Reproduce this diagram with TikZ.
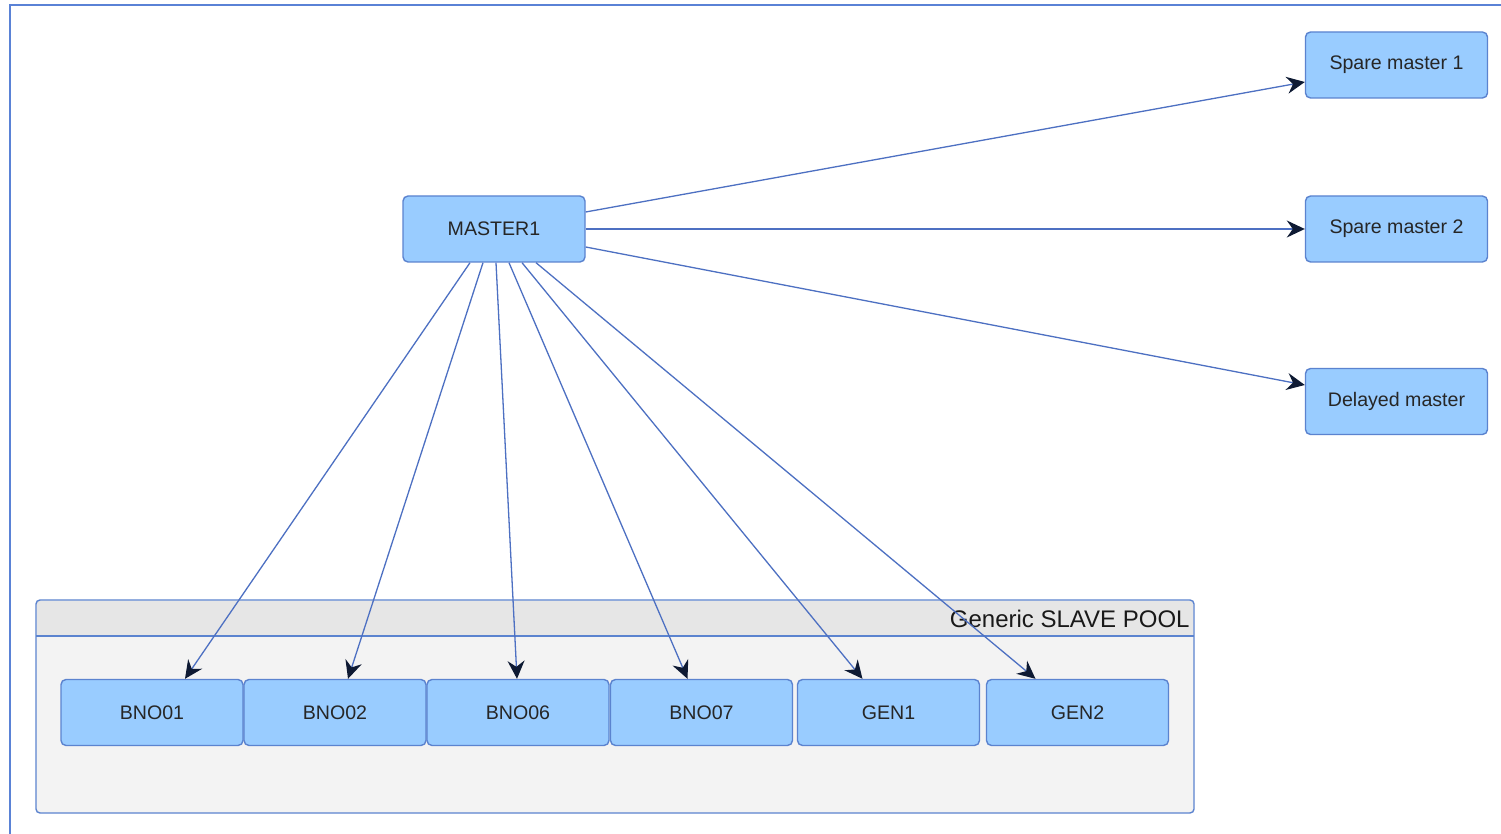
\documentclass[tikz,border=0pt]{standalone}
\usepackage{fontspec}
\setmainfont{Liberation Sans}
\usetikzlibrary{arrows.meta}
\definecolor{frameblue}{HTML}{5A82D6}
\definecolor{boxfill}{HTML}{99CCFF}
\definecolor{boxline}{HTML}{5B83CF}
\definecolor{wire}{HTML}{4D70C2}
\definecolor{tipc}{HTML}{0E1A33}
\definecolor{poolhead}{HTML}{E6E6E6}
\definecolor{poolbody}{HTML}{F3F3F3}
\tikzset{
  hostbox/.style={draw=boxline, fill=boxfill, rounded corners=2.5pt, line width=0.7pt,
    minimum width=91pt, minimum height=33pt, inner sep=0pt,
    font=\fontsize{9.8}{12}\selectfont, text=black!85},
  link/.style={draw=wire, line width=0.65pt,
    -{Stealth[length=9pt, width=8.5pt, inset=3pt, color=tipc]}},
}
\begin{document}
\begin{tikzpicture}[x=0.5pt, y=-0.5pt]
\useasboundingbox (0,0) rectangle (1501,834);
\fill[white] (0,0) rectangle (1501,834);

% page frame (left and top edges)
\draw[frameblue, line width=1pt] (10,850) -- (10,5) -- (1520,5);

% slave pool container
\fill[poolbody, rounded corners=2pt] (36,600) rectangle (1194,813);
\fill[poolhead] (37,601) rectangle (1193,636);
\draw[boxline, line width=0.7pt] (36,636) -- (1194,636);
\draw[boxline, line width=0.7pt, rounded corners=2pt] (36,600) rectangle (1194,813);
\node[anchor=base east, inner sep=0pt, font=\fontsize{12}{14}\selectfont, text=black!90]
  (pooltitle) at (1190,627) {Generic SLAVE POOL};

% master and spare masters
\node[hostbox] (m)  at (494,229)   {MASTER1};
\node[hostbox] (s1) at (1396.5,65) {Spare master 1};
\node[hostbox] (s2) at (1396.5,229) {Spare master 2};
\node[hostbox] (d)  at (1396.5,401.5) {Delayed master};

% slaves
\node[hostbox] (b1) at (152,712.5)   {BNO01};
\node[hostbox] (b2) at (335,712.5)   {BNO02};
\node[hostbox] (b6) at (518,712.5)   {BNO06};
\node[hostbox] (b7) at (701.5,712.5) {BNO07};
\node[hostbox] (g1) at (888.5,712.5) {GEN1};
\node[hostbox] (g2) at (1077.5,712.5) {GEN2};

% replication links to spare masters
\draw[link] ([yshift=8.5pt]m.east) -- ([yshift=-8.5pt]s1.west);
\draw[link] (m.east) -- (s2.west);
\draw[link] ([yshift=-9pt]m.east) -- ([yshift=8.25pt]d.west);

% replication links to slaves
\draw[link] ([xshift=-12pt]m.south)  -- ([xshift=16.5pt]b1.north);
\draw[link] ([xshift=-5.5pt]m.south) -- ([xshift=6.5pt]b2.north);
\draw[link] ([xshift=1pt]m.south)    -- ([xshift=-0.5pt]b6.north);
\draw[link] ([xshift=7.5pt]m.south)  -- ([xshift=-7pt]b7.north);
\draw[link] ([xshift=14pt]m.south)   -- ([xshift=-13pt]g1.north);
\draw[link] ([xshift=21pt]m.south)   -- ([xshift=-21pt]g2.north);
\end{tikzpicture}
\end{document}
